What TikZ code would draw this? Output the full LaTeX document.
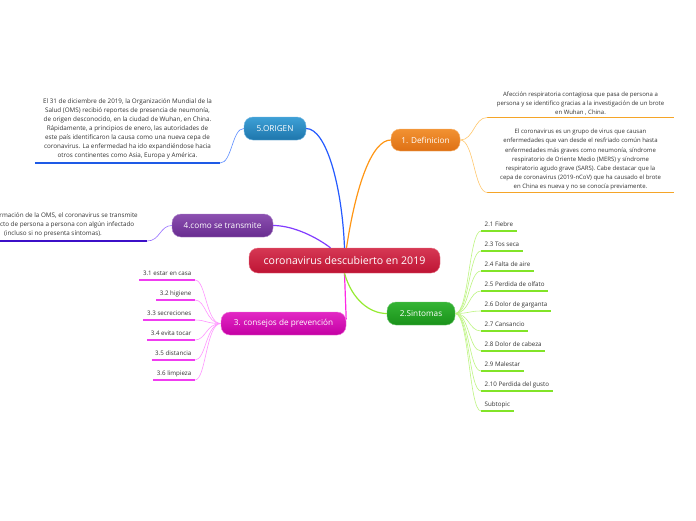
\documentclass[tikz,border=0pt]{standalone}
\usepackage{fontspec}
\setmainfont{Open Sans}
\usetikzlibrary{calc}
\definecolor{txt}{HTML}{333333}
\tikzset{
  topic/.style={rounded corners=9pt, text=white, minimum height=23pt, inner sep=0pt, font=\fontsize{8.2}{10}\selectfont},
  maint/.style={line width=1.2pt},
  subc/.style={line width=0.6pt},
  ul/.style={line width=1.6pt},
  small/.style={text=txt, font=\fontsize{6.3}{9}\selectfont, align=center, inner ysep=4pt},
  lbl/.style={text=txt, font=\fontsize{6.2}{7}\selectfont, inner xsep=3.5pt, inner ysep=3.3pt, text depth=1.5pt},
}
\begin{document}
\begin{tikzpicture}[x=1pt,y=-1pt]
\useasboundingbox (0,0) rectangle (696,520);
\fill[white] (0,0) rectangle (696,520);

% topic nodes
\node[topic, minimum width=191pt, minimum height=25pt, top color={rgb,255:red,214;green,56;blue,84}, bottom color={rgb,255:red,190;green,20;blue,52}, draw={rgb,255:red,232;green,110;blue,130}, font=\fontsize{10.6}{12}\selectfont] (c) at (344.5,260.5) {coronavirus descubierto en 2019};
\node[topic, minimum width=62pt, top color={rgb,255:red,62;green,160;blue,214}, bottom color={rgb,255:red,30;green,118;blue,172}, draw={rgb,255:red,110;green,180;blue,225}] (orig) at (275,128.5) {5.ORIGEN};
\node[topic, minimum width=69pt, minimum height=22pt, top color={rgb,255:red,242;green,146;blue,50}, bottom color={rgb,255:red,222;green,112;blue,20}, draw={rgb,255:red,248;green,180;blue,110}] (def) at (425.5,140) {1. Definicion};
\node[topic, minimum width=101pt, top color={rgb,255:red,140;green,80;blue,176}, bottom color={rgb,255:red,104;green,44;blue,144}, draw={rgb,255:red,170;green,130;blue,200}] (tr) at (222.5,225.5) {4.como se transmite};
\node[topic, minimum width=125pt, top color={rgb,255:red,226;green,40;blue,196}, bottom color={rgb,255:red,196;green,0;blue,164}, draw={rgb,255:red,240;green,120;blue,220}] (cons) at (283.5,323.5) {3. consejos de prevención};
\node[topic, minimum width=68pt, top color={rgb,255:red,52;green,180;blue,52}, bottom color={rgb,255:red,26;green,146;blue,26}, draw={rgb,255:red,110;green,200;blue,110}] (sint) at (421,313.5) {2.Sintomas};

% main connectors
\draw[maint, draw={rgb,255:red,36;green,90;blue,255}] (c.north) .. controls (342,185) and (326,128.5) .. (orig.east);
\draw[maint, draw={rgb,255:red,255;green,150;blue,20}] ($(c.north)+(2,0)$) .. controls (356,185) and (372,140) .. (def.west);
\draw[maint, draw={rgb,255:red,130;green,60;blue,255}] ($(c.north)+(-14,0)$) .. controls (312,234) and (290,225.5) .. (tr.east);
\draw[maint, draw={rgb,255:red,255;green,40;blue,230}] (c.south) -- ($(cons.east)+(0,-4)$);
\draw[maint, draw={rgb,255:red,150;green,235;blue,50}] (c.south) .. controls (352,300) and (370,313.5) .. (sint.west);

% ORIGEN subtopic
\node[small, minimum width=185pt, anchor=south] (o1) at (127.5,163) {El 31 de diciembre de 2019, la Organización Mundial de la\\Salud (OMS) recibió reportes de presencia de neumonía,\\de origen desconocido, en la ciudad de Wuhan, en China.\\Rápidamente, a principios de enero, las autoridades de\\este país identificaron la causa como una nueva cepa de\\coronavirus. La enfermedad ha ido expandiéndose hacia\\otros continentes como Asia, Europa y América.};
\draw[ul, draw={rgb,255:red,30;green,90;blue,230}] (o1.south west) -- (o1.south east);
\draw[subc, draw={rgb,255:red,90;green,140;blue,255}] (orig.west) .. controls (232,128.5) and (232,163) .. (o1.south east);

% transmite subtopic
\node[small, minimum width=188pt, anchor=south] (t1) at (53,241) {Según información de la OMS, el coronavirus se transmite\\por contacto de persona a persona con algún infectado\\(incluso si no presenta síntomas).};
\draw[ul, draw={rgb,255:red,60;green,16;blue,200}] (t1.south west) -- (t1.south east);
\draw[subc, draw={rgb,255:red,150;green,110;blue,255}] (tr.west) .. controls (160,225.5) and (160,241) .. (t1.south east);

% definicion subtopics
\node[small, font=\fontsize{6.0}{9.2}\selectfont, inner ysep=2pt, minimum width=186pt, anchor=south] (d1) at (580.5,117.5) {Afección respiratoria contagiosa que pasa de persona a\\persona y se identifico gracias a la investigación de un brote\\en Wuhan , China.};
\node[small, font=\fontsize{6.0}{9.2}\selectfont, inner ysep=2pt, minimum width=186pt, anchor=south] (d2) at (580.5,192.5) {El coronavirus es un grupo de virus que causan\\enfermedades que van desde el resfriado común hasta\\enfermedades más graves como neumonía, síndrome\\respiratorio de Oriente Medio (MERS) y síndrome\\respiratorio agudo grave (SARS). Cabe destacar que la\\cepa de coronavirus (2019-nCoV) que ha causado el brote\\en China es nueva y no se conocía previamente.};
\draw[ul, draw={rgb,255:red,245;green,165;blue,40}] (d1.south west) -- (d1.south east);
\draw[ul, draw={rgb,255:red,245;green,165;blue,40}] (d2.south west) -- (d2.south east);
\draw[subc, draw={rgb,255:red,255;green,200;blue,110}] (def.east) .. controls (474,140) and (474,117.5) .. (d1.south west);
\draw[subc, draw={rgb,255:red,255;green,200;blue,110}] (def.east) .. controls (474,140) and (474,192.5) .. (d2.south west);

% sintomas subtopics
\foreach \n/\t [count=\i from 0] in {s1/2.1 Fiebre, s2/2.3 Tos seca, s3/2.4 Falta de aire, s4/2.5 Perdida de olfato, s5/2.6 Dolor de garganta, s6/2.7 Cansancio, s7/2.8 Dolor de cabeza, s8/2.9 Malestar, s9/2.10 Perdida del gusto, s10/Subtopic} {
  \node[lbl, anchor=south west] (\n) at (481,{231+20*\i}) {\t};
  \draw[ul, draw={rgb,255:red,130;green,228;blue,40}] (\n.south west) -- (\n.south east);
  \draw[subc, draw={rgb,255:red,190;green,245;blue,130}] (sint.east) .. controls (469,313.5) and (469,{231+20*\i}) .. (\n.south west);
}

% consejos subtopics
\foreach \n/\t [count=\i from 0] in {p1/3.1 estar en casa, p2/3.2 higiene, p3/3.3 secreciones, p4/3.4 evita tocar, p5/3.5 distancia, p6/3.6 limpieza} {
  \node[lbl, anchor=south east] (\n) at (195,{280+20*\i}) {\t};
  \draw[ul, draw={rgb,255:red,240;green,60;blue,240}] (\n.south west) -- (\n.south east);
  \draw[subc, draw={rgb,255:red,255;green,150;blue,255}] (cons.west) .. controls (206,323.5) and (206,{280+20*\i}) .. (\n.south east);
}
\end{tikzpicture}
\end{document}
